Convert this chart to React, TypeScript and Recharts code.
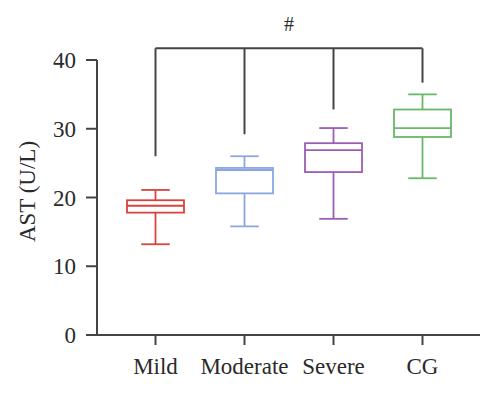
import React from 'react';
import { ComposedChart, Bar, XAxis, YAxis, ReferenceLine } from 'recharts';

const CATEGORIES = ['Mild', 'Moderate', 'Severe', 'CG'];
const MIN = [13.2, 15.8, 16.9, 22.8];
const Q1 = [17.8, 20.6, 23.7, 28.8];
const MEDIAN = [18.8, 24.0, 26.9, 30.1];
const Q3 = [19.6, 24.3, 27.9, 32.8];
const MAX = [21.1, 26.0, 30.1, 35.0];
const BRACKET_TOP = 41.7;
const BRACKET_DROPS = [26.0, 29.2, 32.8, 36.7];
const Y_TICKS = [0, 10, 20, 30, 40];

const COLORS = ['#d8433c', '#8ba7e1', '#9c5db7', '#68b868'];
const AXIS = '#444444';
const FONT = '"Liberation Serif", "DejaVu Serif", serif';

const data = CATEGORIES.map((name, i) => ({
  name,
  min: MIN[i],
  q1: Q1[i],
  median: MEDIAN[i],
  q3: Q3[i],
  max: MAX[i],
}));

// bar runs from 0 up to max, so its geometry gives the y scale for the other stats
function BoxShape(props: any) {
  const { x, y, width, height, payload, index } = props;
  if (!payload || !height) return null;
  const ppu = height / payload.max;
  const base = y + height;
  const py = (v: number) => base - v * ppu;
  const cx = x + width / 2;
  const cap = width * 0.25;
  const color = COLORS[index % COLORS.length];
  return (
    <g stroke={color} strokeWidth={1.8} fill="none">
      <line x1={cx} x2={cx} y1={py(payload.max)} y2={py(payload.q3)} />
      <line x1={cx} x2={cx} y1={py(payload.q1)} y2={py(payload.min)} />
      <line x1={cx - cap} x2={cx + cap} y1={py(payload.max)} y2={py(payload.max)} />
      <line x1={cx - cap} x2={cx + cap} y1={py(payload.min)} y2={py(payload.min)} />
      <rect x={x} y={py(payload.q3)} width={width} height={py(payload.q1) - py(payload.q3)} />
      <line x1={x} x2={x + width} y1={py(payload.median)} y2={py(payload.median)} />
    </g>
  );
}

function YLabel(props: any) {
  const vb = props.viewBox || { x: 11, y: 60, height: 275 };
  const cx = vb.x + 16.5;
  const cy = vb.y + vb.height / 2 - 6;
  return (
    <text
      x={cx}
      y={cy}
      transform={`rotate(-90, ${cx}, ${cy})`}
      textAnchor="middle"
      dominantBaseline="central"
      fontFamily={FONT}
      fontSize={23}
      fill="#2a2a2a"
    >
      AST (U/L)
    </text>
  );
}

function HashLabel(props: any) {
  const vb = props.viewBox;
  if (!vb) return null;
  const cx = vb.x + vb.width / 2;
  return (
    <text x={cx} y={vb.y - 17} textAnchor="middle" fontFamily={FONT} fontSize={20} fill="#2a2a2a">
      #
    </text>
  );
}

export default function App() {
  return (
    <div style={{ position: 'absolute', left: 0, top: 0, background: '#fff' }}>
      <ComposedChart width={500} height={395} data={data} margin={{ top: 60, right: 20, bottom: 10, left: 11 }}>
        <XAxis
          dataKey="name"
          height={50}
          padding={{ left: 14, right: 13 }}
          axisLine={{ stroke: AXIS, strokeWidth: 2 }}
          tickLine={{ stroke: AXIS, strokeWidth: 2 }}
          tickSize={10}
          tickMargin={13}
          tick={{ fontSize: 23, fontFamily: FONT, fill: '#2a2a2a' }}
        />
        <YAxis
          domain={[0, 40]}
          ticks={Y_TICKS}
          width={86}
          axisLine={{ stroke: AXIS, strokeWidth: 2 }}
          tickLine={{ stroke: AXIS, strokeWidth: 2 }}
          tickSize={11}
          tickMargin={10}
          tick={{ fontSize: 23, fontFamily: FONT, fill: '#2a2a2a' }}
          label={<YLabel />}
        />
        <Bar dataKey="max" barSize={57} shape={<BoxShape />} isAnimationActive={false} />
        <ReferenceLine
          segment={[
            { x: CATEGORIES[0], y: BRACKET_TOP },
            { x: CATEGORIES[CATEGORIES.length - 1], y: BRACKET_TOP },
          ]}
          ifOverflow="visible"
          stroke={AXIS}
          strokeWidth={2}
          label={<HashLabel />}
        />
        {CATEGORIES.map((c, i) => (
          <ReferenceLine
            key={c}
            segment={[
              { x: c, y: BRACKET_TOP },
              { x: c, y: BRACKET_DROPS[i] },
            ]}
            ifOverflow="visible"
            stroke={AXIS}
            strokeWidth={2}
          />
        ))}
      </ComposedChart>
    </div>
  );
}
